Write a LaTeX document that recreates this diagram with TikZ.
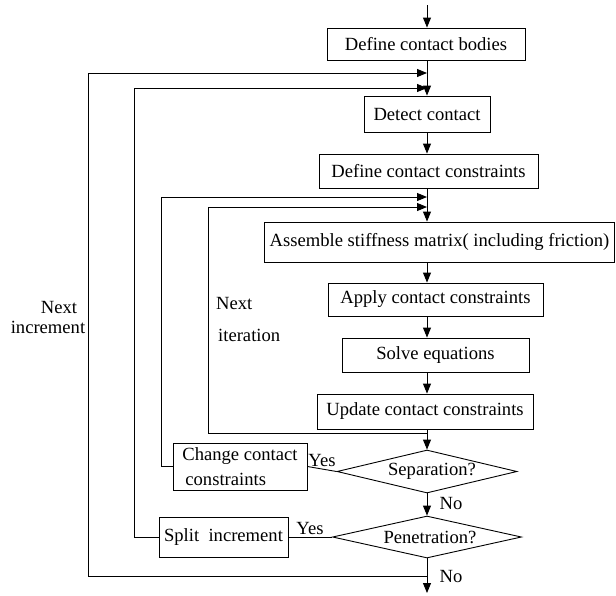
\documentclass[tikz,border=0pt]{standalone}
\usepackage{fontspec}
\setmainfont{Liberation Serif}
\newfontfamily\tnrfam{Liberation Serif}
\usetikzlibrary{shapes.geometric,arrows.meta}
\newcommand\fsz{\tnrfam\fontsize{18.6}{25}\selectfont}
\begin{document}
\begin{tikzpicture}[x=1pt,y=-1pt,
  box/.style={draw, line width=0.9pt, inner sep=0pt, font=\fsz},
  dec/.style={draw, diamond, line width=0.9pt, inner sep=0pt, font=\fsz},
  lbl/.style={inner sep=0pt, font=\fsz},
  ln/.style={line width=0.9pt},
  arr/.style={line width=0.9pt, -{Triangle[length=10pt,width=8pt]}}]
\useasboundingbox (0,0) rectangle (616,595);
\fill[white] (0,0) rectangle (616,595);
% nodes
\node[box, minimum width=198pt, minimum height=32pt] (bodies) at (426,44) {Define contact bodies};
\node[box, minimum width=126pt, minimum height=36pt] (detect) at (427,114) {Detect contact};
\node[box, minimum width=219pt, minimum height=34pt] (defcons) at (428.5,171) {Define contact constraints};
\node[box, minimum width=350pt, minimum height=40pt] (assemble) at (439.5,242) {Assemble stiffness matrix( including friction)};
\node[box, minimum width=215pt, minimum height=33pt] (apply) at (435.5,299.5) {Apply contact constraints};
\node[box, minimum width=187pt, minimum height=34pt] (solve) at (435.5,355) {Solve equations};
\node[box, minimum width=216pt, minimum height=35pt] (update) at (425,411.5) {Update contact constraints};
\node[box, minimum width=134pt, minimum height=47pt, align=left] (change) at (240,466.5) {Change contact\\\hspace*{3pt}constraints};
\node[dec, aspect=4.2, minimum width=180pt, minimum height=43pt] (sep) at (427,471.5) {\hspace*{10pt}Separation?};
\node[box, minimum width=129pt, minimum height=40pt] (split) at (223.5,537) {Split\ \ increment};
\node[dec, aspect=4.5, minimum width=189pt, minimum height=42pt] (pen) at (427,537) {\hspace*{6pt}Penetration?};
% coordinates on the main axis
\coordinate (top) at (427,5);
\coordinate (out) at (427,593);
\coordinate (ni) at (427,576);
\coordinate (it) at (427,433);
\coordinate (k1) at (427,73);
\coordinate (k2) at (427,88);
\coordinate (k3) at (427,197);
\coordinate (k4) at (427,207);
% main flow
\draw[arr] (top) -- (bodies.north -| top);
\draw[ln] (bodies.south -| top) -- (k1);
\draw[arr] (k1) -- (detect.north -| top);
\draw[arr] (detect.south -| top) -- (defcons.north -| top);
\draw[arr] (defcons.south -| top) -- (assemble.north -| top);
\draw[arr] (assemble.south -| top) -- (apply.north -| top);
\draw[arr] (apply.south -| top) -- (solve.north -| top);
\draw[arr] (solve.south -| top) -- (update.north -| top);
\draw[arr] (update.south -| top) -- (sep.north);
\draw[ln] (sep.west) -- (change.east);
\draw[arr] (sep.south) -- (pen.north);
\draw[ln] (pen.west) -- (split.east);
\draw[arr] (pen.south) -- (out);
% loops
\draw[arr] (ni) -- ++(-339,0) |- (k1);
\draw[arr] (split.west) -- ++(-24,0) |- (k2);
\draw[arr] (change.west) -- ++(-11,0) |- (k3);
\draw[arr] (it) -- ++(-219,0) |- (k4);
% labels
\node[lbl] (y1) at (322,460) {Yes};
\node[lbl] (y2) at (310,528) {Yes};
\node[lbl] (n1) at (451,503) {No};
\node[lbl] (n2) at (451,576) {No};
\node[lbl] (nx1) at (59,307) {Next};
\node[lbl] (nx2) at (48,327) {increment};
\node[lbl, anchor=west] (it1) at (216,303) {Next};
\node[lbl, anchor=west] (it2) at (218,335) {iteration};
\end{tikzpicture}
\end{document}
